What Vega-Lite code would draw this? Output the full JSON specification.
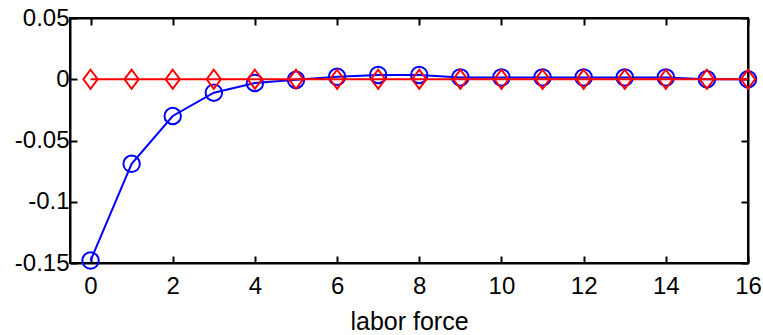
{
  "$schema": "https://vega.github.io/schema/vega-lite/v6.json",
  "width": 678,
  "height": 245,
  "autosize": {"type": "none"},
  "padding": {"left": 70, "top": 18, "right": 15, "bottom": 72},
  "background": "white",
  "config": {
    "view": {"stroke": "black", "strokeWidth": 2},
    "axis": {
      "labelFont": "Liberation Sans",
      "titleFont": "Liberation Sans",
      "labelFontSize": 24,
      "titleFontSize": 25,
      "labelColor": "black",
      "titleColor": "black",
      "titleFontWeight": "normal",
      "domainColor": "black",
      "domainWidth": 2,
      "tickColor": "black",
      "tickWidth": 2,
      "tickSize": -7,
      "grid": false,
      "labelFlush": false,
      "labelOverlap": false,
      "labelBound": false
    }
  },
  "data": {
    "values": [
      {"x": 0, "s": "blue", "y": -0.148},
      {"x": 1, "s": "blue", "y": -0.069},
      {"x": 2, "s": "blue", "y": -0.030},
      {"x": 3, "s": "blue", "y": -0.011},
      {"x": 4, "s": "blue", "y": -0.003},
      {"x": 5, "s": "blue", "y": -0.0005},
      {"x": 6, "s": "blue", "y": 0.002},
      {"x": 7, "s": "blue", "y": 0.0035},
      {"x": 8, "s": "blue", "y": 0.0035},
      {"x": 9, "s": "blue", "y": 0.0015},
      {"x": 10, "s": "blue", "y": 0.0015},
      {"x": 11, "s": "blue", "y": 0.0015},
      {"x": 12, "s": "blue", "y": 0.0015},
      {"x": 13, "s": "blue", "y": 0.0015},
      {"x": 14, "s": "blue", "y": 0.0015},
      {"x": 15, "s": "blue", "y": 0.0},
      {"x": 16, "s": "blue", "y": 0.0},
      {"x": 0, "s": "red", "y": 0},
      {"x": 1, "s": "red", "y": 0},
      {"x": 2, "s": "red", "y": 0},
      {"x": 3, "s": "red", "y": 0},
      {"x": 4, "s": "red", "y": 0},
      {"x": 5, "s": "red", "y": 0},
      {"x": 6, "s": "red", "y": 0},
      {"x": 7, "s": "red", "y": 0},
      {"x": 8, "s": "red", "y": 0},
      {"x": 9, "s": "red", "y": 0},
      {"x": 10, "s": "red", "y": 0},
      {"x": 11, "s": "red", "y": 0},
      {"x": 12, "s": "red", "y": 0},
      {"x": 13, "s": "red", "y": 0},
      {"x": 14, "s": "red", "y": 0},
      {"x": 15, "s": "red", "y": 0},
      {"x": 16, "s": "red", "y": 0}
    ]
  },
  "resolve": {"axis": {"x": "independent", "y": "independent"}},
  "layer": [
    {
      "transform": [{"filter": "datum.s == 'blue'"}],
      "mark": {"type": "line", "color": "#0000ff", "strokeWidth": 2},
      "encoding": {
        "x": {"field": "x", "type": "quantitative", "scale": {"domain": [-0.5, 16], "nice": false, "zero": false},
              "axis": {"orient": "bottom", "values": [0, 2, 4, 6, 8, 10, 12, 14, 16], "title": "labor force", "labelPadding": 18, "titlePadding": 11, "labelExpr": "toString(datum.value)"}},
        "y": {"field": "y", "type": "quantitative", "scale": {"domain": [-0.15, 0.05], "nice": false, "zero": false},
              "axis": {"orient": "left", "values": [-0.15, -0.1, -0.05, 0, 0.05], "title": null, "labelPadding": 8, "labelExpr": "toString(datum.value)"}}
      }
    },
    {
      "transform": [{"filter": "datum.s == 'blue'"}],
      "mark": {"type": "point", "shape": "circle", "filled": false, "stroke": "#0000ff", "strokeWidth": 2, "size": 272, "opacity": 1},
      "encoding": {
        "x": {"field": "x", "type": "quantitative",
              "axis": {"orient": "top", "values": [0, 2, 4, 6, 8, 10, 12, 14, 16], "labels": false, "title": null}},
        "y": {"field": "y", "type": "quantitative",
              "axis": {"orient": "right", "values": [-0.15, -0.1, -0.05, 0, 0.05], "labels": false, "title": null}}
      }
    },
    {
      "transform": [{"filter": "datum.s == 'red'"}],
      "mark": {"type": "line", "color": "#ff0000", "strokeWidth": 2},
      "encoding": {
        "x": {"field": "x", "type": "quantitative", "axis": null},
        "y": {"field": "y", "type": "quantitative", "axis": null}
      }
    },
    {
      "transform": [{"filter": "datum.s == 'red'"}],
      "mark": {"type": "point", "shape": "M0,-1L0.75,0L0,1L-0.75,0Z", "filled": false, "stroke": "#ff0000", "strokeWidth": 2, "size": 361, "opacity": 1},
      "encoding": {
        "x": {"field": "x", "type": "quantitative", "axis": null},
        "y": {"field": "y", "type": "quantitative", "axis": null}
      }
    }
  ]
}
